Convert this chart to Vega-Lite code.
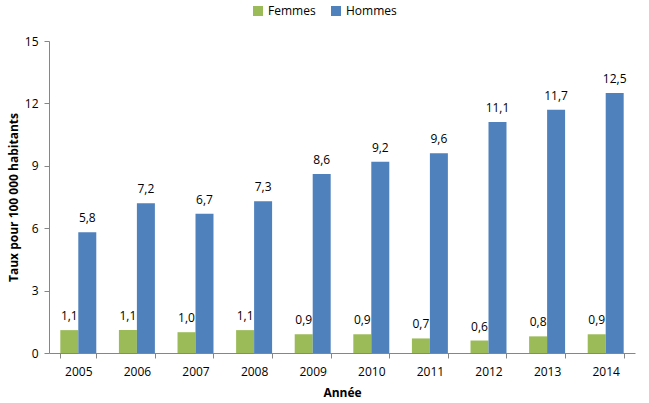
{
  "$schema": "https://vega.github.io/schema/vega-lite/v6.json",
  "autosize": "none",
  "width": 586,
  "height": 312,
  "padding": {"left": 49, "top": 41, "right": 14, "bottom": 50},
  "background": "white",
  "config": {
    "view": {"stroke": null},
    "font": "Open Sans",
    "locale": {"number": {"decimal": ",", "thousands": " ", "grouping": [3], "currency": ["", " €"]}}
  },
  "data": {
    "values": [
      {"annee": "2005", "sexe": "Femmes", "taux": 1.1},
      {"annee": "2005", "sexe": "Hommes", "taux": 5.8},
      {"annee": "2006", "sexe": "Femmes", "taux": 1.1},
      {"annee": "2006", "sexe": "Hommes", "taux": 7.2},
      {"annee": "2007", "sexe": "Femmes", "taux": 1.0},
      {"annee": "2007", "sexe": "Hommes", "taux": 6.7},
      {"annee": "2008", "sexe": "Femmes", "taux": 1.1},
      {"annee": "2008", "sexe": "Hommes", "taux": 7.3},
      {"annee": "2009", "sexe": "Femmes", "taux": 0.9},
      {"annee": "2009", "sexe": "Hommes", "taux": 8.6},
      {"annee": "2010", "sexe": "Femmes", "taux": 0.9},
      {"annee": "2010", "sexe": "Hommes", "taux": 9.2},
      {"annee": "2011", "sexe": "Femmes", "taux": 0.7},
      {"annee": "2011", "sexe": "Hommes", "taux": 9.6},
      {"annee": "2012", "sexe": "Femmes", "taux": 0.6},
      {"annee": "2012", "sexe": "Hommes", "taux": 11.1},
      {"annee": "2013", "sexe": "Femmes", "taux": 0.8},
      {"annee": "2013", "sexe": "Hommes", "taux": 11.7},
      {"annee": "2014", "sexe": "Femmes", "taux": 0.9},
      {"annee": "2014", "sexe": "Hommes", "taux": 12.5}
    ]
  },
  "encoding": {
    "x": {
      "field": "annee", "type": "nominal",
      "scale": {"paddingInner": 0.386, "paddingOuter": 0.193},
      "axis": {
        "title": "Année", "titleFontWeight": "bold", "titleFontSize": 12, "titleColor": "#000",
        "titlePadding": 10,
        "labelAngle": 0, "labelFontSize": 12, "labelColor": "#000", "labelPadding": 8,
        "domainColor": "#868686", "tickColor": "#868686", "tickBand": "extent", "tickSize": 5
      }
    },
    "xOffset": {"field": "sexe", "type": "nominal", "scale": {"paddingInner": 0, "paddingOuter": 0}},
    "y": {
      "field": "taux", "type": "quantitative",
      "scale": {"domain": [0, 15], "nice": false},
      "axis": {
        "title": "Taux pour 100 000 habitants", "titleFontWeight": "bold", "titleFontSize": 12,
        "titleColor": "#000", "titlePadding": 4,
        "values": [0, 3, 6, 9, 12, 15], "grid": false,
        "labelFontSize": 12, "labelColor": "#000", "labelPadding": 6,
        "domainColor": "#868686", "tickColor": "#868686", "tickSize": 5
      }
    },
    "color": {
      "field": "sexe", "type": "nominal",
      "scale": {"domain": ["Femmes", "Hommes"], "range": ["#9BBB59", "#4F81BD"]},
      "legend": {
        "title": null, "orient": "none", "direction": "horizontal",
        "legendX": 203, "legendY": -36,
        "symbolType": "square", "symbolSize": 100, "symbolStrokeWidth": 0,
        "labelFontSize": 12, "labelColor": "#000", "columnPadding": 14
      }
    }
  },
  "layer": [
    {"mark": {"type": "bar"}},
    {
      "mark": {"type": "text", "baseline": "bottom", "dy": -7, "fontSize": 12, "color": "#000"},
      "encoding": {
        "text": {"field": "taux", "type": "quantitative", "format": ".1f"},
        "color": {"value": "#000"}
      }
    }
  ]
}
